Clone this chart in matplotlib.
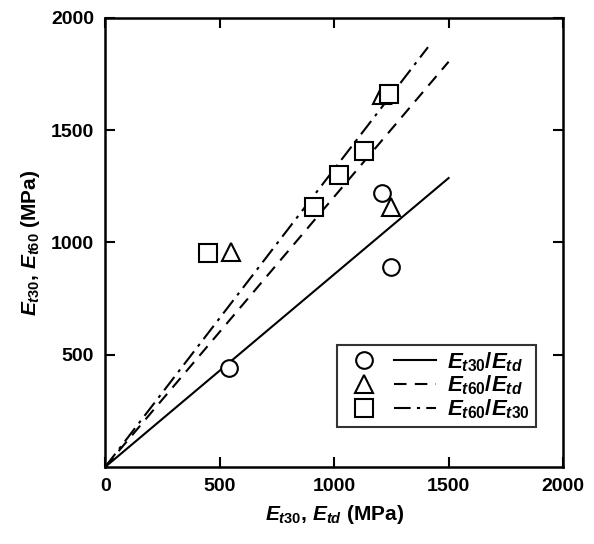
import matplotlib.pyplot as plt
from matplotlib.lines import Line2D
from matplotlib.legend_handler import HandlerTuple

plt.rcParams['font.family'] = ['Liberation Sans', 'DejaVu Sans']
plt.rcParams['font.weight'] = 'bold'
plt.rcParams['axes.labelweight'] = 'bold'
plt.rcParams['mathtext.fontset'] = 'custom'
plt.rcParams['mathtext.it'] = 'Liberation Sans:italic:bold'
plt.rcParams['mathtext.rm'] = 'Liberation Sans:bold'
plt.rcParams['mathtext.bf'] = 'Liberation Sans:bold'

# measured points
circ_x = [540, 1210, 1250]
circ_y = [440, 1220, 890]
tri_x = [550, 1250, 1210]
tri_y = [957, 1158, 1657]
sq_x = [450, 910, 1020, 1130, 1240]
sq_y = [953, 1158, 1300, 1407, 1661]

# fitted lines (end points)
fit_t30_td_x = [0, 1500]
fit_t30_td_y = [0, 1287]
fit_t60_td_x = [0, 1500]
fit_t60_td_y = [0, 1805]
fit_t60_t30_x = [0, 1410]
fit_t60_t30_y = [0, 1870]

xticks = [0, 500, 1000, 1500, 2000]
yticks = [500, 1000, 1500, 2000]

fig = plt.figure(figsize=(5.94, 5.44), dpi=100)
ax = fig.add_axes([0.177, 0.1415, 0.771, 0.8255])

mk = dict(linestyle='none', markerfacecolor='white', markeredgecolor='black',
          markeredgewidth=1.5)
dash = (0, (6, 4))
dashdot = (0, (8, 3, 1.5, 3))
ax.plot(fit_t30_td_x, fit_t30_td_y, color='black', lw=1.5, ls='-')
ax.plot(fit_t60_td_x, fit_t60_td_y, color='black', lw=1.5, ls=dash)
ax.plot(fit_t60_t30_x, fit_t60_t30_y, color='black', lw=1.5, ls=dashdot)
ax.plot(circ_x, circ_y, marker='o', markersize=12, **mk)
ax.plot(tri_x, tri_y, marker='^', markersize=13, **mk)
ax.plot(sq_x, sq_y, marker='s', markersize=12.5, **mk)

ax.set_xlim(0, 2000)
ax.set_ylim(0, 2000)
ax.set_xticks(xticks)
ax.set_yticks(yticks)
ax.tick_params(direction='in', length=7, width=1.5, top=True, right=True,
               labelsize=14, pad=8)
for s in ax.spines.values():
    s.set_linewidth(1.8)

ax.set_xlabel(r'$E_{t30}$, $E_{td}$ (MPa)', fontsize=15, labelpad=6)
ax.set_ylabel(r'$E_{t30}$, $E_{t60}$ (MPa)', fontsize=15, labelpad=6)

h1 = (Line2D([], [], marker='o', markersize=12, **mk),
      Line2D([], [], color='black', lw=1.5, ls='-'))
h2 = (Line2D([], [], marker='^', markersize=13, **mk),
      Line2D([], [], color='black', lw=1.5, ls=dash))
h3 = (Line2D([], [], marker='s', markersize=12.5, **mk),
      Line2D([], [], color='black', lw=1.5, ls=dashdot))
leg = ax.legend([h1, h2, h3],
                [r'$E_{t30}/E_{td}$', r'$E_{t60}/E_{td}$', r'$E_{t60}/E_{t30}$'],
                handler_map={tuple: HandlerTuple(ndivide=None, pad=0.4)},
                handlelength=4.2, fontsize=16, loc='lower right',
                bbox_to_anchor=(0.94, 0.09), frameon=True, fancybox=False,
                edgecolor='black', borderpad=0.25, labelspacing=0.0,
                handletextpad=0.5, borderaxespad=0)
leg.get_frame().set_linewidth(1.5)

fig.savefig('out.png', dpi=100)
